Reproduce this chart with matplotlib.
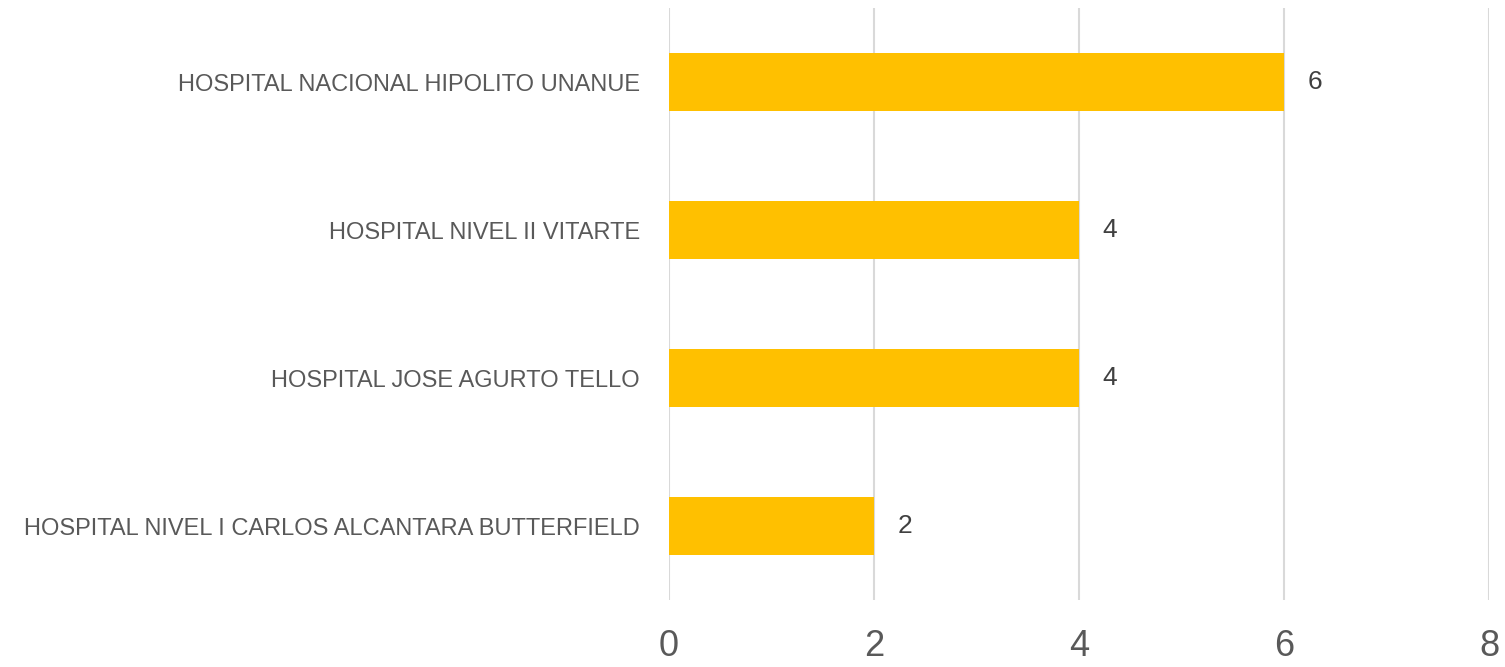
import matplotlib.pyplot as plt

# --- DATA ---
hospitales = [
    'HOSPITAL NIVEL I CARLOS ALCANTARA BUTTERFIELD',
    'HOSPITAL JOSE AGURTO TELLO',
    'HOSPITAL NIVEL II VITARTE',
    'HOSPITAL NACIONAL HIPOLITO UNANUE',
]
casos = [2, 4, 4, 6]
x_ticks = [0, 2, 4, 6, 8]

plt.rcParams['font.family'] = 'Liberation Sans'

fig = plt.figure(figsize=(15.05, 6.67), dpi=100)
ax = fig.add_axes([0.4445, 0.1004, 0.5449, 0.8876])

pos = range(len(hospitales))
ax.barh(pos, casos, height=0.39, color='#FFC000', zorder=3)

# etiquetas de valor a la derecha de cada barra
for i, v in enumerate(casos):
    ax.annotate(str(v), xy=(v, i), xytext=(17, 0), textcoords='offset points',
                va='center', ha='left', fontsize=19, color='#404040')

ax.set_xlim(0, 8)
ax.set_ylim(-0.5, len(hospitales) - 0.5)
ax.set_xticks(x_ticks)
ax.set_xticklabels([str(t) for t in x_ticks], fontsize=26, color='#595959')
ax.set_yticks(list(pos))
ax.set_yticklabels(hospitales, fontsize=17, color='#595959')

ax.grid(axis='x', color='#D9D9D9', linewidth=1.5, zorder=0)
ax.tick_params(axis='both', length=0)
ax.tick_params(axis='x', pad=21)
ax.tick_params(axis='y', pad=21)
for s in ax.spines.values():
    s.set_visible(False)

fig.savefig('out.png', dpi=100)
